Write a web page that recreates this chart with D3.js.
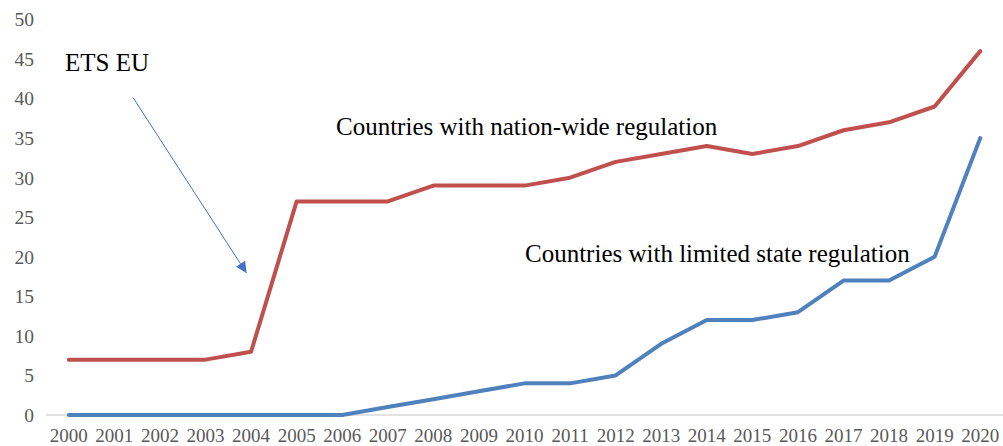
<!DOCTYPE html>
<html><head><meta charset="utf-8">
<script src="https://cdn.jsdelivr.net/npm/d3@7"></script>
<style>body{margin:0;background:#fff}svg{display:block}</style>
</head><body>
<svg id="c" width="1003" height="446"></svg>
<script>
const years = ["2000","2001","2002","2003","2004","2005","2006","2007","2008","2009","2010","2011","2012","2013","2014","2015","2016","2017","2018","2019","2020"];
const nationWide = [7,7,7,7,8,27,27,27,29,29,29,30,32,33,34,33,34,36,37,39,46];
const limitedState = [0,0,0,0,0,0,0,1,2,3,4,4,5,9,12,12,13,17,17,20,35];
const yTicks = [0,5,10,15,20,25,30,35,40,45,50];

const svg = d3.select("#c");
const x = d3.scalePoint().domain(years).range([46,1003]).padding(0.5);
const y = d3.scaleLinear().domain([0,50]).range([415,19.5]);
const font = "'Liberation Serif','Times New Roman',serif";

// baseline axis
svg.append("line").attr("x1",46).attr("x2",1003).attr("y1",y(0)).attr("y2",y(0))
  .attr("stroke","#d9d9d9").attr("stroke-width",1.5);

// y labels
svg.append("g").selectAll("text").data(yTicks).join("text")
  .attr("x",34).attr("y",d=>y(d)).attr("dy","0.35em").attr("text-anchor","end")
  .attr("font-family",font).attr("font-size",19.5).attr("fill","#595959").text(d=>d);

// x labels
svg.append("g").selectAll("text").data(years).join("text")
  .attr("x",d=>x(d)).attr("y",441.5).attr("text-anchor","middle")
  .attr("font-family",font).attr("font-size",19).attr("fill","#595959").text(d=>d);

const line = d3.line().x((d,i)=>x(years[i])).y(d=>y(d));
svg.append("path").datum(limitedState).attr("d",line).attr("fill","none")
  .attr("stroke","#4f81bd").attr("stroke-width",4).attr("stroke-linecap","round").attr("stroke-linejoin","round");
svg.append("path").datum(nationWide).attr("d",line).attr("fill","none")
  .attr("stroke","#c0504d").attr("stroke-width",4).attr("stroke-linecap","round").attr("stroke-linejoin","round");

// annotations
svg.append("text").attr("x",65).attr("y",71).attr("font-family",font).attr("font-size",25).attr("fill","#000").text("ETS EU");
svg.append("text").attr("x",336).attr("y",135).attr("font-family",font).attr("font-size",25).attr("fill","#000").text("Countries with nation-wide regulation");
svg.append("text").attr("x",525).attr("y",262).attr("font-family",font).attr("font-size",25).attr("fill","#000").text("Countries with limited state regulation");

// arrow
const defs = svg.append("defs");
defs.append("marker").attr("id","ah").attr("viewBox","0 0 10 10").attr("refX",10).attr("refY",5)
  .attr("markerWidth",11).attr("markerHeight",11).attr("markerUnits","userSpaceOnUse").attr("orient","auto")
  .append("path").attr("d","M0,0 L10,5 L0,10 Z").attr("fill","#4472c4");
svg.append("line").attr("x1",133).attr("y1",97.5).attr("x2",246.5).attr("y2",273)
  .attr("stroke","#4472c4").attr("stroke-width",1).attr("marker-end","url(#ah)");
</script>
</body></html>
